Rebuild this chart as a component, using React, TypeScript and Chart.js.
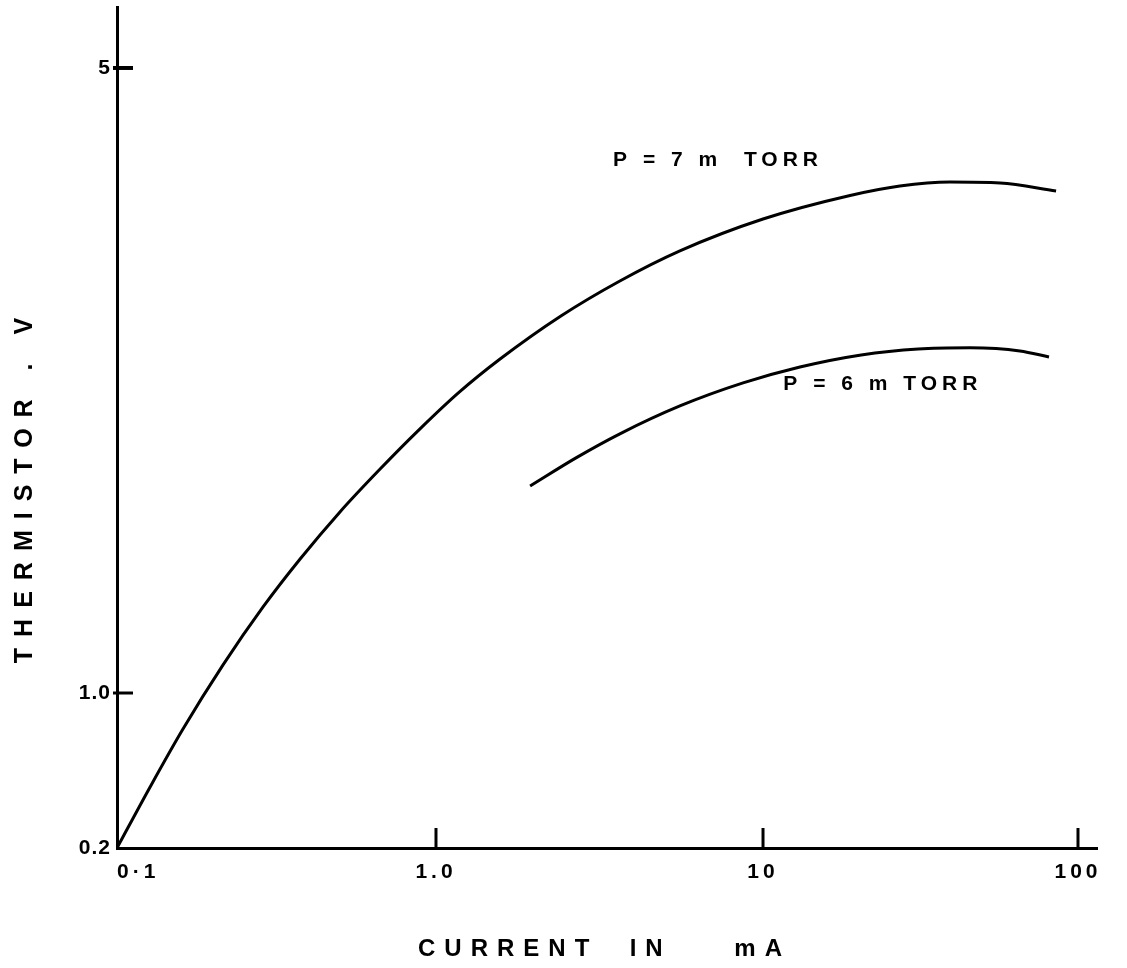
import React, { useEffect, useRef } from 'react';
import {
  Chart,
  LineController,
  LineElement,
  PointElement,
  LogarithmicScale,
} from 'chart.js';

// Thermistor voltage (V) against current (mA), P = 7 m TORR
const CURRENT_7 = [0.1, 0.127, 0.161, 0.215, 0.287, 0.375, 0.5, 0.668, 0.891, 1.18, 1.57, 2.41, 3.65, 5.57, 10, 18.9, 27.2, 39.2, 56.6, 85.2];
const VOLTS_7 = [0.2, 0.377, 0.688, 1.075, 1.248, 1.412, 1.594, 1.78, 1.974, 2.171, 2.363, 2.64, 2.889, 3.122, 3.389, 3.601, 3.69, 3.728, 3.719, 3.643];

// Thermistor voltage (V) against current (mA), P = 6 m TORR
const CURRENT_6 = [1.94, 2.68, 3.65, 5.57, 8.69, 13.1, 20.5, 31.1, 45.4, 65.4, 80.9];
const VOLTS_6 = [1.704, 1.832, 1.949, 2.094, 2.222, 2.315, 2.388, 2.425, 2.432, 2.413, 2.376];

// Axis ticks and their printed labels
const X_TICKS = [0.1, 1, 10, 100];
const X_TICK_LABELS = ['0·1', '1.0', '10', '100'];
const Y_TICKS = [0.2, 1, 5];
const Y_TICK_LABELS = ['0.2', '1.0', '5'];

// Curve captions, anchored at (current, voltage)
const CAPTIONS = [
  { text: 'P = 7 m  TORR', x: 3.48, y: 3.94 },
  { text: 'P = 6 m TORR', x: 11.6, y: 2.216 },
];

const X_TITLE = 'CURRENT  IN    mA';
const Y_TITLE = 'THERMISTOR . V';

const INK = '#000';
const FONT = '"Liberation Sans", Arial, sans-serif';

// The paper's log axes are not evenly divided: each decade has its own length.
// `breaks` are axis values, `stops` the fraction of the axis length where they sit,
// `spacing` the letter spacing of the hand-lettered tick labels.
const SEGMENTS: Record<string, { breaks: number[]; stops: number[]; spacing: string }> = {
  x: { breaks: [0.1, 1, 10, 100, 114.6], stops: [0, 0.3255, 0.6592, 0.9806, 1], spacing: '4px' },
  y: { breaks: [0.2, 1, 5, 5.85], stops: [0, 0.1843, 0.9275, 1], spacing: '1px' },
};

class SegmentedLogScale extends LogarithmicScale {
  static id = 'segmentedLog';
  static defaults = {};

  private seg() {
    return SEGMENTS[this.id];
  }

  private toDecimal(value: number): number {
    const { breaks, stops } = this.seg();
    const lv = Math.log10(value);
    const n = breaks.length;
    for (let i = 0; i < n - 1; i++) {
      const a = Math.log10(breaks[i]);
      const b = Math.log10(breaks[i + 1]);
      if (lv <= b || i === n - 2) {
        return stops[i] + ((stops[i + 1] - stops[i]) * (lv - a)) / (b - a);
      }
    }
    return 0;
  }

  getPixelForValue(value: number) {
    if (value === undefined || value === null || isNaN(value) || value <= 0) {
      return NaN;
    }
    return this.getPixelForDecimal(this.toDecimal(value));
  }

  getValueForPixel(pixel: number) {
    const d = this.getDecimalForPixel(pixel);
    const { breaks, stops } = this.seg();
    const n = breaks.length;
    for (let i = 0; i < n - 1; i++) {
      if (d <= stops[i + 1] || i === n - 2) {
        const a = Math.log10(breaks[i]);
        const b = Math.log10(breaks[i + 1]);
        const t = (d - stops[i]) / (stops[i + 1] - stops[i]);
        return Math.pow(10, a + t * (b - a));
      }
    }
    return breaks[0];
  }

  drawLabels(chartArea: any) {
    const ctx = this.ctx as any;
    ctx.save();
    ctx.letterSpacing = this.seg().spacing;
    super.drawLabels(chartArea);
    ctx.restore();
  }
}

Chart.register(LineController, LineElement, PointElement, LogarithmicScale, SegmentedLogScale);

// Short tick strokes drawn inward from the axes (none at the origin)
const inwardTicks = {
  id: 'inwardTicks',
  afterDatasetsDraw(chart: any) {
    const { ctx, chartArea, scales } = chart;
    ctx.save();
    ctx.strokeStyle = INK;
    ctx.lineWidth = 3;
    X_TICKS.slice(1).forEach((v) => {
      const px = scales.x.getPixelForValue(v);
      ctx.beginPath();
      ctx.moveTo(px, chartArea.bottom);
      ctx.lineTo(px, chartArea.bottom - 20);
      ctx.stroke();
    });
    Y_TICKS.slice(1).forEach((v, i) => {
      const py = scales.y.getPixelForValue(v);
      ctx.lineWidth = i === Y_TICKS.length - 2 ? 4 : 3;
      ctx.beginPath();
      ctx.moveTo(chartArea.left - 4, py);
      ctx.lineTo(chartArea.left + 16, py);
      ctx.stroke();
    });
    ctx.restore();
  },
};

// Curve captions and axis titles
const lettering = {
  id: 'lettering',
  afterDraw(chart: any) {
    const { ctx, chartArea, scales } = chart;
    ctx.save();
    ctx.fillStyle = INK;

    ctx.font = `bold 21px ${FONT}`;
    (ctx as any).letterSpacing = '5px';
    ctx.textAlign = 'left';
    ctx.textBaseline = 'middle';
    CAPTIONS.forEach((c) => {
      ctx.fillText(c.text, scales.x.getPixelForValue(c.x), scales.y.getPixelForValue(c.y));
    });

    ctx.font = `bold 24px ${FONT}`;
    (ctx as any).letterSpacing = '9px';
    ctx.textAlign = 'left';
    ctx.fillText(X_TITLE, 418, chartArea.bottom + 101);

    ctx.font = `bold 25px ${FONT}`;
    ctx.translate(25, 485);
    ctx.rotate(-Math.PI / 2);
    (ctx as any).letterSpacing = '11px';
    ctx.textAlign = 'center';
    ctx.fillText(Y_TITLE, 0, 0);
    ctx.restore();
  },
};

export default function App() {
  const canvasRef = useRef<HTMLCanvasElement | null>(null);

  useEffect(() => {
    if (!canvasRef.current) return;
    const line = (xs: number[], ys: number[]) => xs.map((x, i) => ({ x, y: ys[i] }));
    const chart = new Chart(canvasRef.current, {
      type: 'line',
      data: {
        datasets: [
          {
            label: 'P = 7 m TORR',
            data: line(CURRENT_7, VOLTS_7),
            borderColor: INK,
            borderWidth: 3,
            pointRadius: 0,
            cubicInterpolationMode: 'monotone',
            fill: false,
          },
          {
            label: 'P = 6 m TORR',
            data: line(CURRENT_6, VOLTS_6),
            borderColor: INK,
            borderWidth: 3,
            pointRadius: 0,
            cubicInterpolationMode: 'monotone',
            fill: false,
          },
        ],
      },
      options: {
        responsive: false,
        animation: false,
        events: [],
        layout: { padding: { left: 0, top: 7, right: 30, bottom: 0 } },
        plugins: { legend: { display: false }, tooltip: { enabled: false } },
        scales: {
          x: {
            type: 'segmentedLog' as any,
            min: 0.1,
            max: 114.6,
            afterFit: (scale: any) => {
              scale.height = 120;
              scale.paddingLeft = 0;
              scale.paddingRight = 0;
            },
            // an unlabelled tick at the axis end lets the first label sit flush with the origin
            afterBuildTicks: (scale: any) => {
              scale.ticks = [...X_TICKS, scale.max].map((value) => ({ value }));
            },
            border: { display: true, color: INK, width: 3 },
            grid: { display: true, drawOnChartArea: false, drawTicks: false, color: 'rgba(0,0,0,0)' },
            ticks: {
              autoSkip: false,
              maxRotation: 0,
              align: 'inner',
              padding: 12,
              color: INK,
              font: { family: FONT, size: 21, weight: 'bold' },
              callback: (_v: any, i: number) => X_TICK_LABELS[i] ?? '',
            },
          },
          y: {
            type: 'segmentedLog' as any,
            min: 0.2,
            max: 5.85,
            afterFit: (scale: any) => {
              scale.width = 117;
              scale.paddingTop = 0;
              scale.paddingBottom = 0;
            },
            afterBuildTicks: (scale: any) => {
              scale.ticks = Y_TICKS.map((value) => ({ value }));
            },
            border: { display: true, color: INK, width: 3 },
            grid: { display: true, drawOnChartArea: false, drawTicks: false, color: 'rgba(0,0,0,0)' },
            ticks: {
              autoSkip: false,
              padding: 6,
              color: INK,
              font: { family: FONT, size: 21, weight: 'bold' },
              callback: (_v: any, i: number) => Y_TICK_LABELS[i],
            },
          },
        },
      },
      plugins: [inwardTicks, lettering],
    });
    return () => chart.destroy();
  }, []);

  return (
    <div style={{ position: 'fixed', left: 0, top: 0, width: 1127, height: 968, background: '#fff' }}>
      <canvas ref={canvasRef} width={1127} height={968} style={{ display: 'block' }} />
    </div>
  );
}
